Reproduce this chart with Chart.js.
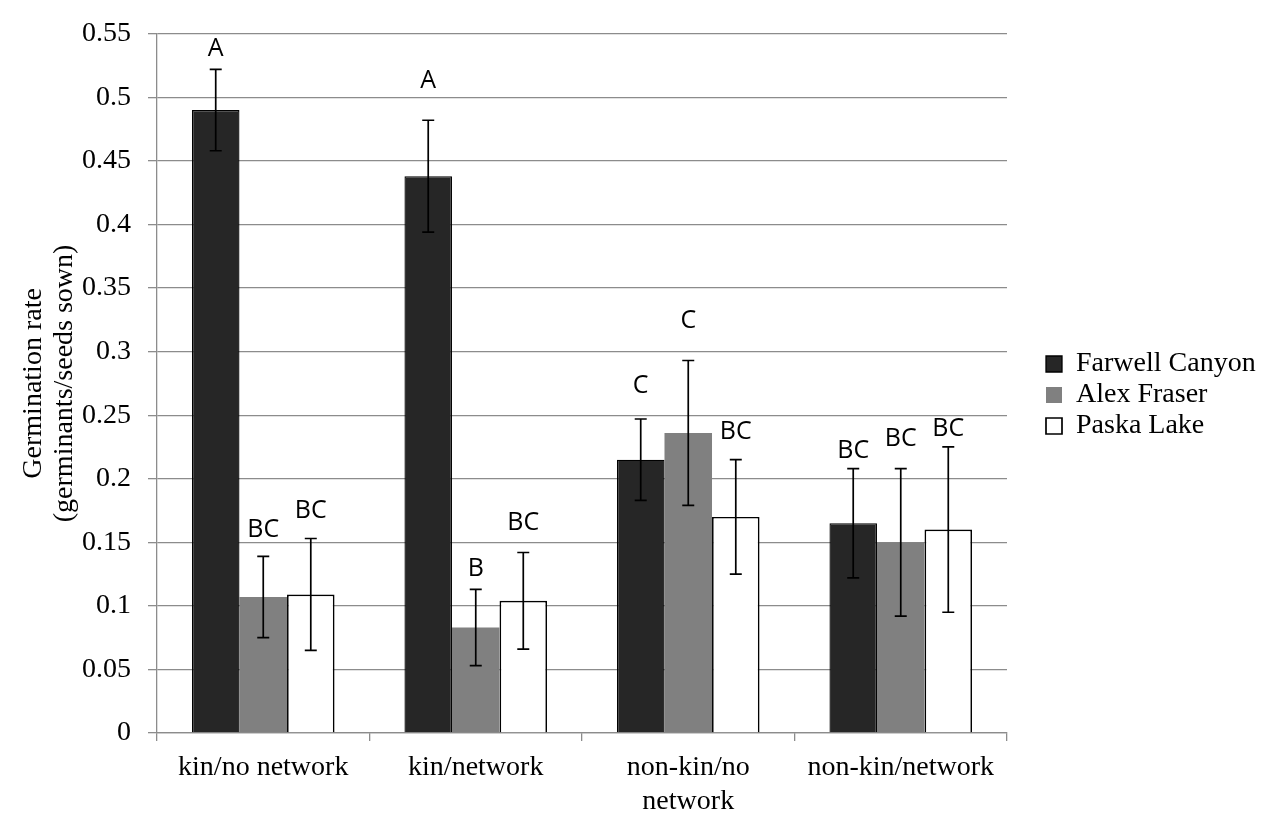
<!DOCTYPE html>
<html>
<head>
<meta charset="utf-8">
<title>Germination rate by treatment and population</title>
<script src="https://cdn.jsdelivr.net/npm/chart.js@4.4.1/dist/chart.umd.min.js"></script>
<style>
  html, body { margin: 0; padding: 0; background: #ffffff; }
  canvas { display: block; }
</style>
</head>
<body>
<canvas id="chart" width="1275" height="816"></canvas>
<script>
// Treatments on the x axis
const categories = ['kin/no network', 'kin/network', ['non-kin/no', 'network'], 'non-kin/network'];

// Population names
const seriesNames = ['Farwell Canyon', 'Alex Fraser', 'Paska Lake'];

// Mean germination rate (germinants / seeds sown)
const farwellCanyon = [0.490, 0.438, 0.215, 0.165];
const alexFraser    = [0.107, 0.083, 0.236, 0.150];
const paskaLake     = [0.109, 0.104, 0.170, 0.160];

// Standard error of each mean
const farwellErr = [0.032, 0.044, 0.032, 0.043];
const alexErr    = [0.032, 0.030, 0.057, 0.058];
const paskaErr   = [0.044, 0.038, 0.045, 0.065];

// Significance groups (Tukey letters)
const farwellLetters = ['A', 'A', 'C', 'BC'];
const alexLetters    = ['BC', 'B', 'C', 'BC'];
const paskaLetters   = ['BC', 'BC', 'BC', 'BC'];

// Height on the rate axis at which each letter is written
const farwellLetterAt = [0.538, 0.513, 0.273, 0.222];
const alexLetterAt    = [0.160, 0.129, 0.324, 0.231];
const paskaLetterAt   = [0.175, 0.165, 0.237, 0.239];

// Rate axis tick labels
const yTickLabels = ['0', '0.05', '0.1', '0.15', '0.2', '0.25', '0.3', '0.35', '0.4', '0.45', '0.5', '0.55'];

const SERIF = '"Liberation Serif", "Times New Roman", serif';
const SANS = '"Open Sans", "Liberation Sans", sans-serif';
const GRID = '#8c8c8c';

// Legend geometry
const LEGEND_WIDTH = 268;
const LEGEND_X = 1046;
const LEGEND_Y = 350;

// Error bars and letters, placed with the value scale
const errorBarsAndLetters = {
  id: 'errorBarsAndLetters',
  afterDatasetsDraw(chart) {
    const { ctx } = chart;
    const y = chart.scales.y;
    ctx.save();
    chart.data.datasets.forEach((ds, di) => {
      const meta = chart.getDatasetMeta(di);
      if (meta.hidden) return;
      meta.data.forEach((bar, i) => {
        const v = ds.data[i];
        const e = ds.errors[i];
        const x = bar.x;
        const top = y.getPixelForValue(v + e);
        const bot = y.getPixelForValue(v - e);
        ctx.strokeStyle = '#000000';
        ctx.lineWidth = 1.7;
        ctx.beginPath();
        ctx.moveTo(x, top); ctx.lineTo(x, bot);
        ctx.moveTo(x - 6, top); ctx.lineTo(x + 6, top);
        ctx.moveTo(x - 6, bot); ctx.lineTo(x + 6, bot);
        ctx.stroke();

        ctx.fillStyle = '#000000';
        ctx.font = '25px ' + SANS;
        ctx.textAlign = 'center';
        ctx.textBaseline = 'middle';
        ctx.fillText(ds.letters[i], x, y.getPixelForValue(ds.letterAt[i]));
      });
    });
    ctx.restore();
  }
};

// Fixed legend column to the right of the plot
const legendPlacement = {
  id: 'legendPlacement',
  beforeLayout(chart) {
    const lg = chart.legend;
    if (lg && !lg.__fixedWidth) {
      const baseFit = lg.fit;
      lg.fit = function () { baseFit.call(this); this.width = LEGEND_WIDTH; };
      lg.__fixedWidth = true;
    }
  },
  afterLayout(chart) {
    const lg = chart.legend;
    if (!lg) return;
    const pad = lg.options.labels.padding;
    const w = lg.width, h = lg.height;
    lg.left = LEGEND_X - pad; lg.right = lg.left + w;
    lg.top = LEGEND_Y - pad; lg.bottom = lg.top + h;
  }
};

new Chart(document.getElementById('chart'), {
  type: 'bar',
  data: {
    labels: categories,
    datasets: [
      {
        label: seriesNames[0], data: farwellCanyon, errors: farwellErr,
        letters: farwellLetters, letterAt: farwellLetterAt,
        backgroundColor: '#262626', borderColor: '#000000', borderWidth: 1.3
      },
      {
        label: seriesNames[1], data: alexFraser, errors: alexErr,
        letters: alexLetters, letterAt: alexLetterAt,
        backgroundColor: '#808080', borderColor: '#808080', borderWidth: 0
      },
      {
        label: seriesNames[2], data: paskaLake, errors: paskaErr,
        letters: paskaLetters, letterAt: paskaLetterAt,
        backgroundColor: '#ffffff', borderColor: '#000000', borderWidth: 1.7
      }
    ]
  },
  options: {
    responsive: false,
    animation: false,
    devicePixelRatio: 1,
    categoryPercentage: 0.671,
    barPercentage: 1.0,
    layout: { padding: { top: 19, left: 0, right: 0, bottom: 0 } },
    plugins: {
      tooltip: { enabled: false },
      legend: {
        position: 'right',
        align: 'start',
        labels: {
          boxWidth: 16,
          boxHeight: 16,
          padding: 3,
          color: '#000000',
          font: { family: SERIF, size: 28 }
        }
      }
    },
    scales: {
      x: {
        grid: {
          display: true,
          drawOnChartArea: false,
          drawTicks: true,
          tickLength: 8,
          color: GRID,
          lineWidth: 1.3,
          offset: true
        },
        border: { display: true, color: GRID, width: 1.3 },
        ticks: {
          color: '#000000',
          padding: 10,
          maxRotation: 0,
          autoSkip: false,
          font: { family: SERIF, size: 28, lineHeight: 1.2 }
        },
        afterFit(scale) { scale.height = 83; }
      },
      y: {
        min: 0,
        max: 0.55,
        grid: {
          color: GRID,
          lineWidth: 1.3,
          drawTicks: true,
          tickLength: 9
        },
        border: { display: true, color: GRID, width: 1.3 },
        ticks: {
          stepSize: 0.05,
          color: '#000000',
          padding: 17,
          font: { family: SERIF, size: 28 },
          callback: (value, index) => yTickLabels[index]
        },
        title: {
          display: true,
          text: ['Germination rate', '(germinants/seeds sown)'],
          color: '#000000',
          padding: { top: 18, bottom: 0 },
          font: { family: SERIF, size: 28, lineHeight: 1.1 }
        },
        afterFit(scale) { scale.width = 157; }
      }
    }
  },
  plugins: [legendPlacement, errorBarsAndLetters]
});
</script>
</body>
</html>
